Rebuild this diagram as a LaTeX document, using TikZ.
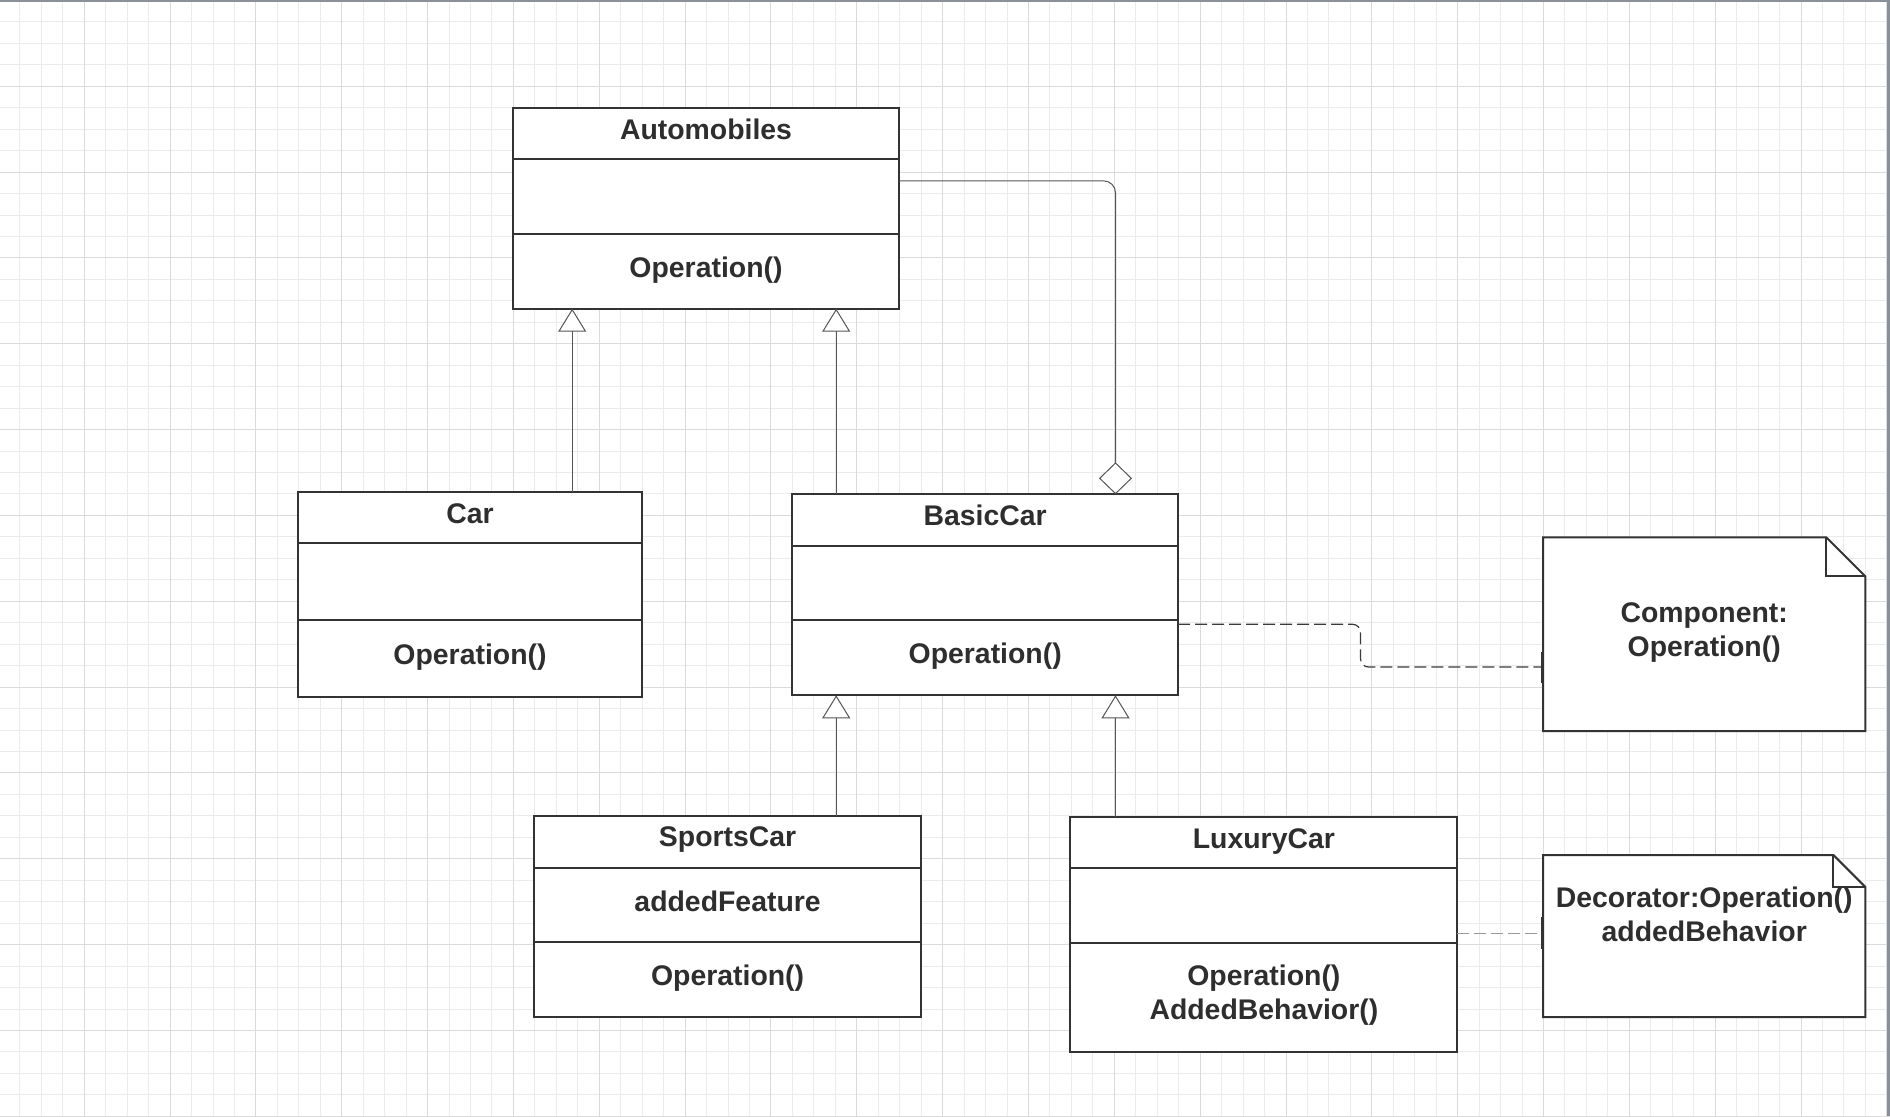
\documentclass[tikz,border=0pt]{standalone}
\usepackage{fontspec}
\setmainfont{Liberation Sans}
\usetikzlibrary{arrows.meta,calc}
\definecolor{txt}{HTML}{2E2E2E}
\definecolor{boxc}{HTML}{333333}
\definecolor{gridminor}{HTML}{EBEBEB}
\definecolor{gridmajor}{HTML}{DBDBDB}
\definecolor{edgec}{HTML}{8A9097}
\definecolor{conn}{HTML}{555555}
\definecolor{conndark}{HTML}{3A3A3A}
\definecolor{connlight}{HTML}{999999}
\newcommand{\lblfont}{\fontsize{14.2}{17}\selectfont\bfseries}
\begin{document}
\begin{tikzpicture}[x=0.5pt,y=-0.5pt,
  cls/.style={draw=boxc, line width=1pt, fill=white, inner sep=0pt, outer sep=0pt, anchor=north west},
  notebox/.style={inner sep=0pt, outer sep=0pt, anchor=north west},
  notedraw/.style={draw=boxc, line width=1pt, fill=white, line join=miter},
  sep/.style={draw=boxc, line width=1pt},
  lbl/.style={font=\lblfont, text=txt, inner sep=0pt, anchor=base},
  gen/.style={draw=conn, line width=0.5pt, -{Triangle[width=14pt,length=11.5pt,fill=white]}},
  agg/.style={draw=conn, line width=0.5pt, rounded corners=6pt, -{Diamond[width=16.5pt,length=16pt,fill=white]}},
  dep/.style={draw=#1, line width=0.6pt, dash pattern=on 6pt off 2.5pt},
  gmin/.style={draw=gridminor, line width=0.5pt},
  gmaj/.style={draw=gridmajor, line width=0.5pt},
]
\useasboundingbox (0,0) rectangle (1890,1116);
% background grid
\begin{scope}
\clip (0,0) rectangle (1890,1116);
\fill[white] (0,0) rectangle (1890,1116);
\foreach \i in {0,...,88} \draw[gmin] ({-1.6+21.46*\i},0) -- ({-1.6+21.46*\i},1116);
\foreach \j in {0,...,52} \draw[gmin] (0,{0.4+21.46*\j}) -- (1890,{0.4+21.46*\j});
\foreach \i in {0,4,...,88} \draw[gmaj] ({-1.6+21.46*\i},0) -- ({-1.6+21.46*\i},1116);
\foreach \j in {0,4,...,52} \draw[gmaj] (0,{0.4+21.46*\j}) -- (1890,{0.4+21.46*\j});
\draw[edgec, line width=0.75pt] (0,0.75) -- (1890,0.75);
\draw[edgec, line width=1.5pt] (1888.5,0) -- (1888.5,1116);
\end{scope}

% classes
\node[cls, minimum width=193pt, minimum height=100.2pt] (auto) at (513,108.3) {};
\node[cls, minimum width=172pt, minimum height=102.5pt] (car) at (298,492.3) {};
\node[cls, minimum width=192.9pt, minimum height=100.5pt] (basic) at (792.3,494.3) {};
\node[cls, minimum width=193.4pt, minimum height=100.35pt] (sports) at (534.2,816.3) {};
\node[cls, minimum width=193.5pt, minimum height=117.45pt] (luxury) at (1070.4,816.7) {};

\foreach \n/\a/\b in {auto/51/126, car/51/128, basic/51.5/126, sports/51.5/126, luxury/51.5/126} {
  \draw[sep] ($(\n.north west)+(0,\a)$) -- ($(\n.north east)+(0,\a)$);
  \draw[sep] ($(\n.north west)+(0,\b)$) -- ($(\n.north east)+(0,\b)$);
}

% notes
\node[notebox, minimum width=161.2pt, minimum height=96.8pt] (comp) at (1543,537.4) {};
\node[notebox, minimum width=161.2pt, minimum height=81pt] (deco) at (1543,855) {};
\path[notedraw] (comp.north west) -- ($(comp.north east)+(-39,0)$) -- ($(comp.north east)+(0,39)$) -- (comp.south east) -- (comp.south west) -- cycle;
\draw[sep] ($(comp.north east)+(-39,0)$) -- ($(comp.north east)+(-39,39)$) -- ($(comp.north east)+(0,39)$);
\path[notedraw] (deco.north west) -- ($(deco.north east)+(-32,0)$) -- ($(deco.north east)+(0,32)$) -- (deco.south east) -- (deco.south west) -- cycle;
\draw[sep] ($(deco.north east)+(-32,0)$) -- ($(deco.north east)+(-32,32)$) -- ($(deco.north east)+(0,32)$);

% labels
\node[lbl] (autoT) at ($(auto.north)+(0,31)$) {Automobiles};
\node[lbl] (autoO) at ($(auto.north)+(0,169.5)$) {Operation()};
\node[lbl] (carT) at ($(car.north)+(0,31)$) {Car};
\node[lbl] (carO) at ($(car.north)+(0,172)$) {Operation()};
\node[lbl] (basicT) at ($(basic.north)+(0,30.7)$) {BasicCar};
\node[lbl] (basicO) at ($(basic.north)+(0,169.4)$) {Operation()};
\node[lbl] (sportsT) at ($(sports.north)+(0,30.4)$) {SportsCar};
\node[lbl] (sportsA) at ($(sports.north)+(0,94.7)$) {addedFeature};
\node[lbl] (sportsO) at ($(sports.north)+(0,168.7)$) {Operation()};
\node[lbl] (luxuryT) at ($(luxury.north)+(0,31.3)$) {LuxuryCar};
\node[lbl] (luxuryO) at ($(luxury.north)+(0,168.3)$) {\begin{tabular}[t]{@{}c@{}}Operation()\\AddedBehavior()\end{tabular}};
\node[lbl] (compT) at ($(comp.north)+(0,85.5)$) {\begin{tabular}[t]{@{}c@{}}Component:\\Operation()\end{tabular}};
\node[lbl] (decoT) at ($(deco.north)+(0,52.5)$) {\begin{tabular}[t]{@{}c@{}}Decorator:Operation()\\addedBehavior\end{tabular}};

% connectors
\coordinate (g1) at ($(car.north west)+(274.2,0)$);
\draw[gen] (g1) -- (g1 |- auto.south);
\coordinate (g2) at ($(basic.north west)+(43.9,0)$);
\draw[gen] (g2) -- (g2 |- auto.south);
\coordinate (g3) at ($(sports.north west)+(302,0)$);
\draw[gen] (g3) -- (g3 |- basic.south);
\coordinate (g4) at ($(luxury.north west)+(45.1,0)$);
\draw[gen] (g4) -- (g4 |- basic.south);
\coordinate (a1) at ($(auto.north east)+(0,72.5)$);
\coordinate (a2) at ($(basic.north west)+(323.2,0)$);
\draw[agg] (a1) -| (a2);
\coordinate (d1) at ($(basic.north east)+(0,130)$);
\coordinate (d2) at ($(comp.north west)+(0,129.6)$);
\draw[dep=conndark, rounded corners=4pt] (d1) -| ($(d1)!0.5!(d2)$) |- (d2);
\draw[boxc, line width=1pt] ($(d2)+(-1.5,-15)$) -- ($(d2)+(-1.5,16)$);
\coordinate (d3) at ($(luxury.north east)+(0,116.7)$);
\draw[dep=connlight] (d3) -- (d3 -| deco.west);
\draw[boxc, line width=1pt] ($(d3 -| deco.west)+(-1.5,-16)$) -- ($(d3 -| deco.west)+(-1.5,16)$);
\end{tikzpicture}
\end{document}
